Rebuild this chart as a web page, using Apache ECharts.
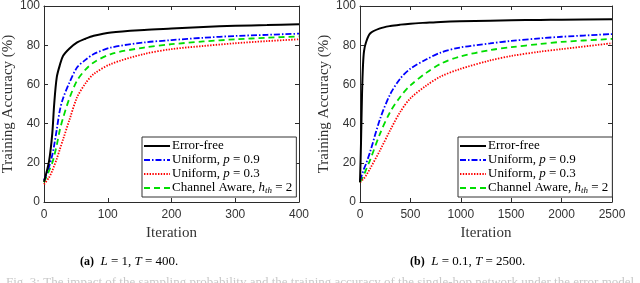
<!DOCTYPE html>
<html><head><meta charset="utf-8">
<script src="https://cdn.jsdelivr.net/npm/echarts@6/dist/echarts.min.js"></script>
<style>html,body{margin:0;padding:0;background:#fff}#c{width:640px;height:283px}</style>
</head><body><div id="c"></div>
<script>
// Panel (a): L = 1, T = 400
const xA = [0, 8, 13, 16, 20, 25, 30, 40, 52, 65, 78, 105, 157, 200, 250, 300, 350, 400];
const errFreeA = [10.3, 21, 35, 50, 63.6, 70, 74.6, 78.3, 81.4, 83.3, 84.8, 86.5, 87.8, 88.5, 89.3, 89.9, 90.3, 90.7];
const unif09A = [11, 18, 24, 29, 37, 47, 53, 61, 68.7, 72.5, 75.5, 78.8, 81.4, 82.6, 83.8, 84.7, 85.3, 85.9];
const unif03A = [9, 12.5, 16, 18.5, 22, 27, 32, 42, 53.5, 60.5, 65.3, 70.4, 75.5, 78, 79.6, 81, 82.1, 83];
const chanA = [10, 16, 20, 23.5, 29, 37, 43, 53, 62, 67.5, 71.2, 75.5, 78.8, 80.5, 81.9, 83, 83.8, 84.5];
// Panel (b): L = 0.1, T = 2500
const xB = [0, 10, 20, 30, 40, 60, 100, 200, 300, 400, 500, 660, 800, 990, 1290, 1500, 1786, 2000, 2500];
const errFreeB = [10, 30, 55, 70, 77, 81.5, 86, 88.6, 89.8, 90.5, 91, 91.5, 91.9, 92.2, 92.5, 92.7, 92.9, 93.0, 93.3];
const unif09B = [11, 12.5, 14, 15.5, 17, 19.5, 25.5, 42.5, 55, 63, 68, 72.8, 76.2, 78.8, 80.9, 82.2, 83.5, 84.3, 85.7];
const unif03B = [10, 10.5, 11, 11.5, 12, 13.5, 17, 26.5, 36.7, 46, 52.9, 59.5, 64, 67.8, 72.2, 74.5, 76.7, 78, 81];
const chanB = [10, 11, 12, 13, 14, 16.5, 21.4, 35, 46, 53.7, 59.5, 66, 70.5, 74.2, 77.5, 79, 80.6, 81.7, 83.2];
const yTicks = [0, 20, 40, 60, 80, 100];
const legendNames = ['Error-free', 'Uniform, {i|p} = 0.9', 'Uniform, {i|p} = 0.3', 'Channel Aware, {i|h}{s|th} = 2'];
const captionA = '{b|(a)}  {i|L} = 1, {i|T} = 400.';
const captionB = '{b|(b)}  {i|L} = 0.1, {i|T} = 2500.';
const bottomText = 'Fig. 3: The impact of the sampling probability and the training accuracy of the single-hop network under the error model';

const serif = '"Liberation Serif","DejaVu Serif",serif';
const sans = '"Liberation Sans","DejaVu Sans",sans-serif';
const axisCol = '#2b2b2b';

function pairs(xs, ys) { return xs.map((x, i) => [x, ys[i]]); }

const chart = echarts.init(document.getElementById('c'), null, {renderer: 'canvas'});

const grids = [
  {left: 44, right: 341, top: 5, bottom: 81},
  {left: 360, right: 28, top: 6, bottom: 81}
];

function xAxes(gi, max, interval) {
  return [
    {gridIndex: gi, type: 'value', min: 0, max: max, interval: interval, position: 'bottom',
     name: 'Iteration', nameLocation: 'middle', nameGap: 22,
     nameTextStyle: {fontFamily: serif, fontSize: 15, color: '#333'},
     axisLine: {show: true, onZero: false, lineStyle: {color: axisCol, width: 1}},
     axisTick: {show: true, inside: true, length: 4, lineStyle: {color: axisCol}},
     axisLabel: {fontFamily: sans, fontSize: 12, color: '#333', margin: 7, formatter: v => String(v)},
     splitLine: {show: false}},
    {gridIndex: gi, type: 'value', min: 0, max: max, interval: interval, position: 'top',
     axisLine: {show: true, onZero: false, lineStyle: {color: axisCol, width: 1}},
     axisTick: {show: true, inside: true, length: 4, lineStyle: {color: axisCol}},
     axisLabel: {show: false}, splitLine: {show: false}}
  ];
}
function yAxes(gi) {
  return [
    {gridIndex: gi, type: 'value', min: 0, max: 100, interval: 20, position: 'left',
     name: 'Training Accuracy (%)', nameLocation: 'middle', nameGap: 28,
     nameTextStyle: {fontFamily: serif, fontSize: 15, color: '#333'},
     axisLine: {show: true, onZero: false, lineStyle: {color: axisCol, width: 1}},
     axisTick: {show: true, inside: true, length: 4, lineStyle: {color: axisCol}},
     axisLabel: {fontFamily: sans, fontSize: 12, color: '#333', margin: 4,
                 formatter: v => yTicks.includes(v) ? String(v) : ''},
     splitLine: {show: false}},
    {gridIndex: gi, type: 'value', min: 0, max: 100, interval: 20, position: 'right',
     axisLine: {show: true, onZero: false, lineStyle: {color: axisCol, width: 1}},
     axisTick: {show: true, inside: true, length: 4, lineStyle: {color: axisCol}},
     axisLabel: {show: false}, splitLine: {show: false}}
  ];
}

const styles = [
  {color: '#000000', type: 'solid', width: 2},
  {color: '#0000ff', type: [6, 2, 1.5, 2], width: 1.8},
  {color: '#ff0000', type: [1.4, 1.4], width: 1.8},
  {color: '#00dd00', type: [6, 4], width: 1.8}
];
const dataA = [errFreeA, unif09A, unif03A, chanA];
const dataB = [errFreeB, unif09B, unif03B, chanB];
const suffix = ['', '\u200b'];

const series = [];
[[dataA, xA, 0], [dataB, xB, 1]].forEach(([ds, xs, gi]) => {
  ds.forEach((ys, k) => {
    series.push({
      type: 'line', name: legendNames[k] + suffix[gi],
      xAxisIndex: gi * 2, yAxisIndex: gi * 2,
      data: pairs(xs, ys), smooth: 0.3, showSymbol: false, symbol: 'none',
      lineStyle: {color: styles[k].color, type: styles[k].type, width: styles[k].width},
      itemStyle: {color: styles[k].color},
      z: 10 - k, silent: true, animation: false
    });
  });
});

const richLeg = {
  i: {fontFamily: serif, fontStyle: 'italic', fontSize: 13, color: '#000', lineHeight: 14},
  s: {fontFamily: serif, fontStyle: 'italic', fontSize: 9, color: '#000', lineHeight: 14, padding: [5, 0, 0, 0]}
};
function legend(gi, left, top) {
  return {
    show: true, orient: 'vertical', left: left, top: top,
    data: legendNames.map(n => n + suffix[gi]),
    formatter: n => n.replace('\u200b', ''),
    itemWidth: 26, itemHeight: 10, itemGap: 0,
    padding: [2, 4, 2, 1],
    itemStyle: {opacity: 0, borderWidth: 0},
    backgroundColor: '#fff', borderColor: '#333', borderWidth: 1, borderRadius: 0,
    textStyle: {fontFamily: serif, fontSize: 13, color: '#000', lineHeight: 14, padding: [0, 0, 0, -3], rich: richLeg},
    selectedMode: false
  };
}

const capRich = {
  b: {fontFamily: serif, fontWeight: 'bold', fontSize: 12, color: '#000'},
  i: {fontFamily: serif, fontStyle: 'italic', fontSize: 13, color: '#000'}
};

chart.setOption({
  animation: false,
  backgroundColor: '#fff',
  grid: grids,
  xAxis: [...xAxes(0, 400, 100), ...xAxes(1, 2500, 500)],
  yAxis: [...yAxes(0), ...yAxes(1)],
  legend: [legend(0, 142, 137), legend(1, 458, 137)],
  series: series,
  graphic: [
    {type: 'text', left: 80, top: 255, style: {text: captionA, font: '13px ' + serif, fill: '#000', rich: capRich}},
    {type: 'text', left: 410, top: 255, style: {text: captionB, font: '13px ' + serif, fill: '#000', rich: capRich}},
    {type: 'text', left: 6, top: 276, style: {text: bottomText, font: '13px ' + serif, fill: '#c8c8c8'}}
  ]
});
</script></body></html>
